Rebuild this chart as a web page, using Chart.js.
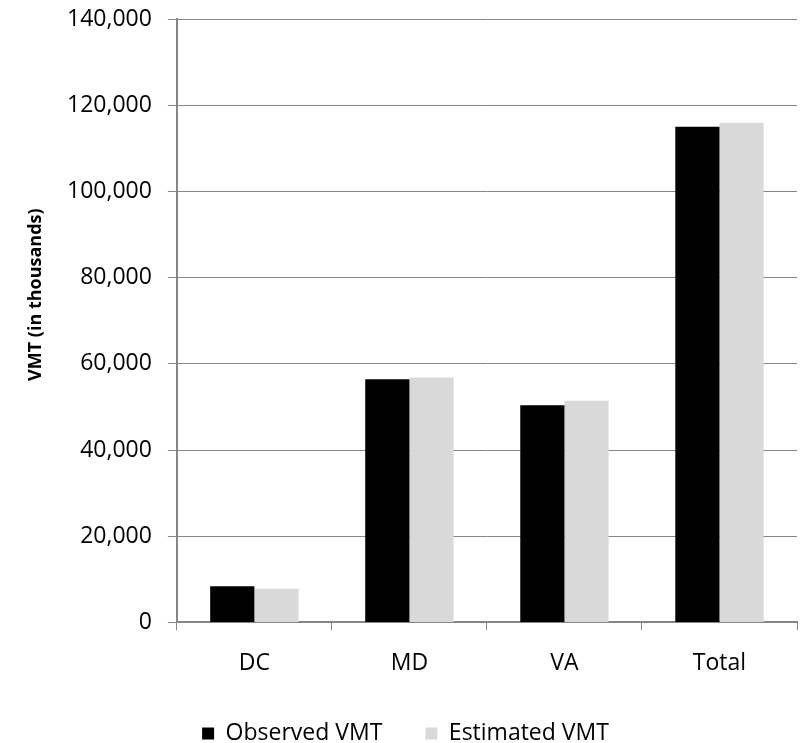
<!DOCTYPE html>
<html>
<head>
<meta charset="utf-8">
<script src="https://cdn.jsdelivr.net/npm/chart.js@4/dist/chart.umd.min.js"></script>
<style>
  html, body { margin: 0; padding: 0; background: #ffffff; }
  #wrap { width: 802px; height: 743px; }
</style>
</head>
<body>
<div id="wrap"><canvas id="c" width="802" height="743"></canvas></div>
<script>
// Vehicle miles travelled by jurisdiction, in thousands
const regions = ['DC', 'MD', 'VA', 'Total'];
const observedVMT = [8360, 56400, 50400, 115000];
const estimatedVMT = [7830, 56800, 51400, 115900];
const yTicks = [0, 20000, 40000, 60000, 80000, 100000, 120000, 140000];
const yTitle = 'VMT (in thousands)';

const fontFamily = "'Open Sans', 'Liberation Sans', sans-serif";
const axisGray = '#868686';

// Rotated y-axis title, placed a little above the middle of the plot area
const yTitlePlugin = {
  id: 'yTitle',
  afterDraw(chart) {
    const { ctx, chartArea } = chart;
    const cy = (chartArea.top + chartArea.bottom) / 2 - 26;
    ctx.save();
    ctx.translate(36, cy);
    ctx.rotate(-Math.PI / 2);
    ctx.textAlign = 'center';
    ctx.textBaseline = 'middle';
    ctx.fillStyle = '#000000';
    ctx.font = "bold 18px " + fontFamily;
    ctx.fillText(yTitle, 0, 0);
    ctx.restore();
  }
};

new Chart(document.getElementById('c'), {
  type: 'bar',
  data: {
    labels: regions,
    datasets: [
      {
        label: 'Observed VMT',
        data: observedVMT,
        backgroundColor: '#000000',
        borderWidth: 0,
        categoryPercentage: 0.57,
        barPercentage: 1.0
      },
      {
        label: 'Estimated VMT',
        data: estimatedVMT,
        backgroundColor: '#d9d9d9',
        borderWidth: 0,
        categoryPercentage: 0.57,
        barPercentage: 1.0
      }
    ]
  },
  options: {
    responsive: false,
    animation: false,
    layout: { padding: { left: 14, right: 5, top: 19, bottom: -12 } },
    plugins: {
      legend: {
        position: 'bottom',
        labels: {
          color: '#000000',
          font: { family: fontFamily, size: 23 },
          boxWidth: 12,
          boxHeight: 12,
          padding: 43
        }
      },
      tooltip: { enabled: false }
    },
    scales: {
      x: {
        offset: true,
        // let the category labels sit closer to the legend
        afterFit: (scale) => { scale.height -= 17; },
        grid: {
          offset: true,
          drawOnChartArea: false,
          drawTicks: true,
          tickLength: 8,
          color: axisGray,
          lineWidth: 1
        },
        border: { color: axisGray, width: 2 },
        ticks: {
          color: '#000000',
          font: { family: fontFamily, size: 23 },
          padding: 19
        }
      },
      y: {
        min: 0,
        max: 140000,
        afterBuildTicks: (axis) => { axis.ticks = yTicks.map(v => ({ value: v })); },
        // leave room on the left for the rotated title
        afterFit: (scale) => { scale.paddingTop = 0; scale.paddingBottom = 0; scale.width += 37; },
        grid: {
          color: axisGray,
          lineWidth: 1,
          drawTicks: true,
          tickLength: 9
        },
        border: { color: axisGray, width: 2 },
        ticks: {
          color: '#000000',
          font: { family: fontFamily, size: 23 },
          padding: 16,
          callback: (v) => Number(v).toLocaleString('en-US')
        }
      }
    }
  },
  plugins: [yTitlePlugin]
});
</script>
</body>
</html>
